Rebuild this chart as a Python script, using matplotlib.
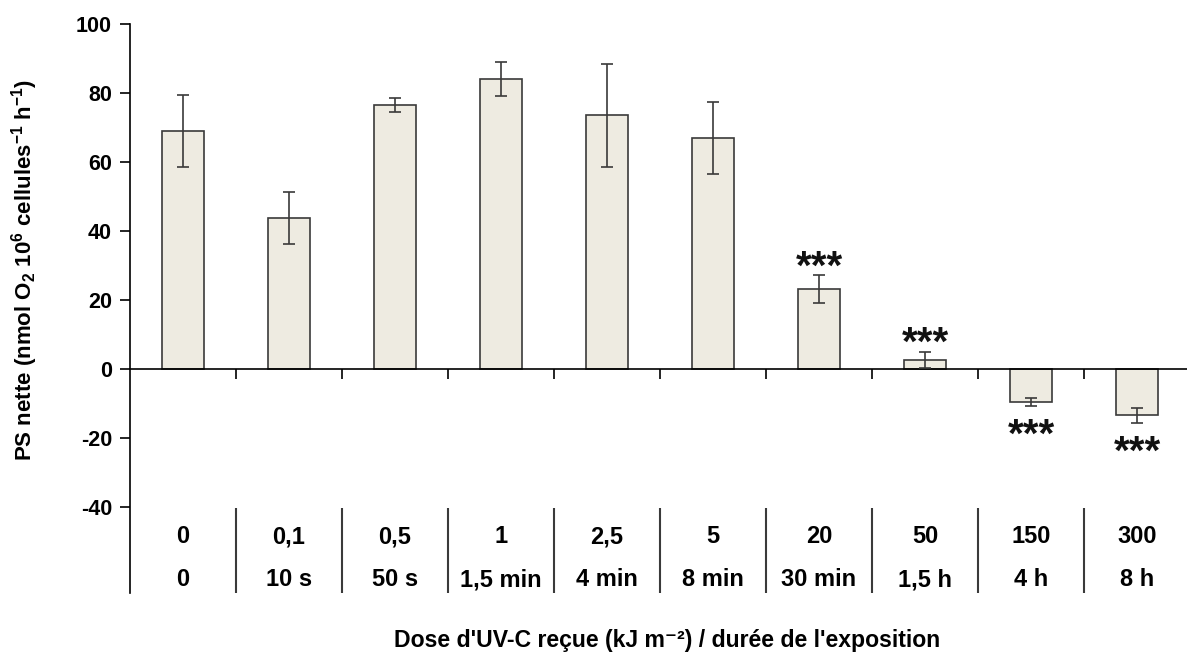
import matplotlib
matplotlib.use('Agg')
from matplotlib import pyplot as plt
import numpy as np

plt.rcParams['font.family'] = ['Liberation Sans', 'DejaVu Sans']
plt.rcParams['font.weight'] = 'bold'
plt.rcParams['axes.unicode_minus'] = False
plt.rcParams['mathtext.fontset'] = 'custom'
plt.rcParams['mathtext.rm'] = 'Liberation Sans:bold'
plt.rcParams['mathtext.bf'] = 'Liberation Sans:bold'
plt.rcParams['mathtext.it'] = 'Liberation Sans:bold'
plt.rcParams['mathtext.default'] = 'bf'

doses = ['0', '0,1', '0,5', '1', '2,5', '5', '20', '50', '150', '300']
durees = ['0', '10 s', '50 s', '1,5 min', '4 min', '8 min', '30 min', '1,5 h', '4 h', '8 h']
ps_nette = [69, 43.7, 76.5, 84, 73.5, 67, 23.1, 2.6, -9.7, -13.5]
erreur = [10.5, 7.5, 2, 5, 15, 10.5, 4, 2.4, 1.2, 2.2]
signif = ['', '', '', '', '', '', '***', '***', '***', '***']

fig = plt.figure(figsize=(11.87, 6.6), dpi=100)
ax = fig.add_axes([130/1187, 1-593/660, 1060/1187, (593-24)/660])

x = np.arange(len(doses))
ax.bar(x, ps_nette, width=0.4, color='#EEEBE1', edgecolor='#3a3a3a', linewidth=1.2, zorder=2)
ax.errorbar(x, ps_nette, yerr=erreur, fmt='none', ecolor='#3a3a3a', elinewidth=1.2,
            capsize=4, capthick=1.2, zorder=3)

# etoiles au-dessus / en-dessous des barres
for i, s in enumerate(signif):
    if not s:
        continue
    if ps_nette[i] >= 0:
        y = ps_nette[i] + erreur[i] - 3.2
        va = 'bottom'
    else:
        y = ps_nette[i] - erreur[i] - 3.0
        va = 'top'
    ax.text(x[i], y, s, ha='center', va=va, fontsize=29, fontweight='bold', color='#111111')

ax.set_xlim(-0.5, 9.5)
ax.set_ylim(-65, 100)
ax.set_yticks(np.arange(-40, 101, 20))
ax.tick_params(axis='y', direction='out', length=7, width=1.2, labelsize=15.5, pad=6)
for t in ax.get_yticklabels():
    t.set_fontweight('bold')

ax.spines['top'].set_visible(False)
ax.spines['right'].set_visible(False)
ax.spines['left'].set_linewidth(1.2)
ax.spines['bottom'].set_position(('data', 0))
ax.spines['bottom'].set_linewidth(1.2)
ax.set_xticks(x[:-1] + 0.5)
ax.set_xticklabels([])
ax.tick_params(axis='x', direction='out', length=7, width=1.2)

# tableau sous le graphe
ax.vlines(x[:-1] + 0.5, -65, -40.3, color='#3a3a3a', linewidth=1.5)
for i in range(len(doses)):
    ax.text(x[i], -48.7, doses[i], ha='center', va='center', fontsize=17, fontweight='bold')
    ax.text(x[i], -61.2, durees[i], ha='center', va='center', fontsize=17, fontweight='bold')

fig.text(25/1187, 1-270/660,
         'PS nette (nmol O$_{2}$ 10$^{6}$ cellules$^{-1}$ h$^{-1}$)',
         rotation=90, ha='center', va='center', fontsize=16, fontweight='bold')

fig.text(667/1187, 1-640/660, "Dose d'UV-C reçue (kJ m\u207b\u00b2) / durée de l'exposition",
         ha='center', va='center', fontsize=16.6, fontweight='bold')

fig.savefig('out.png', dpi=100)
